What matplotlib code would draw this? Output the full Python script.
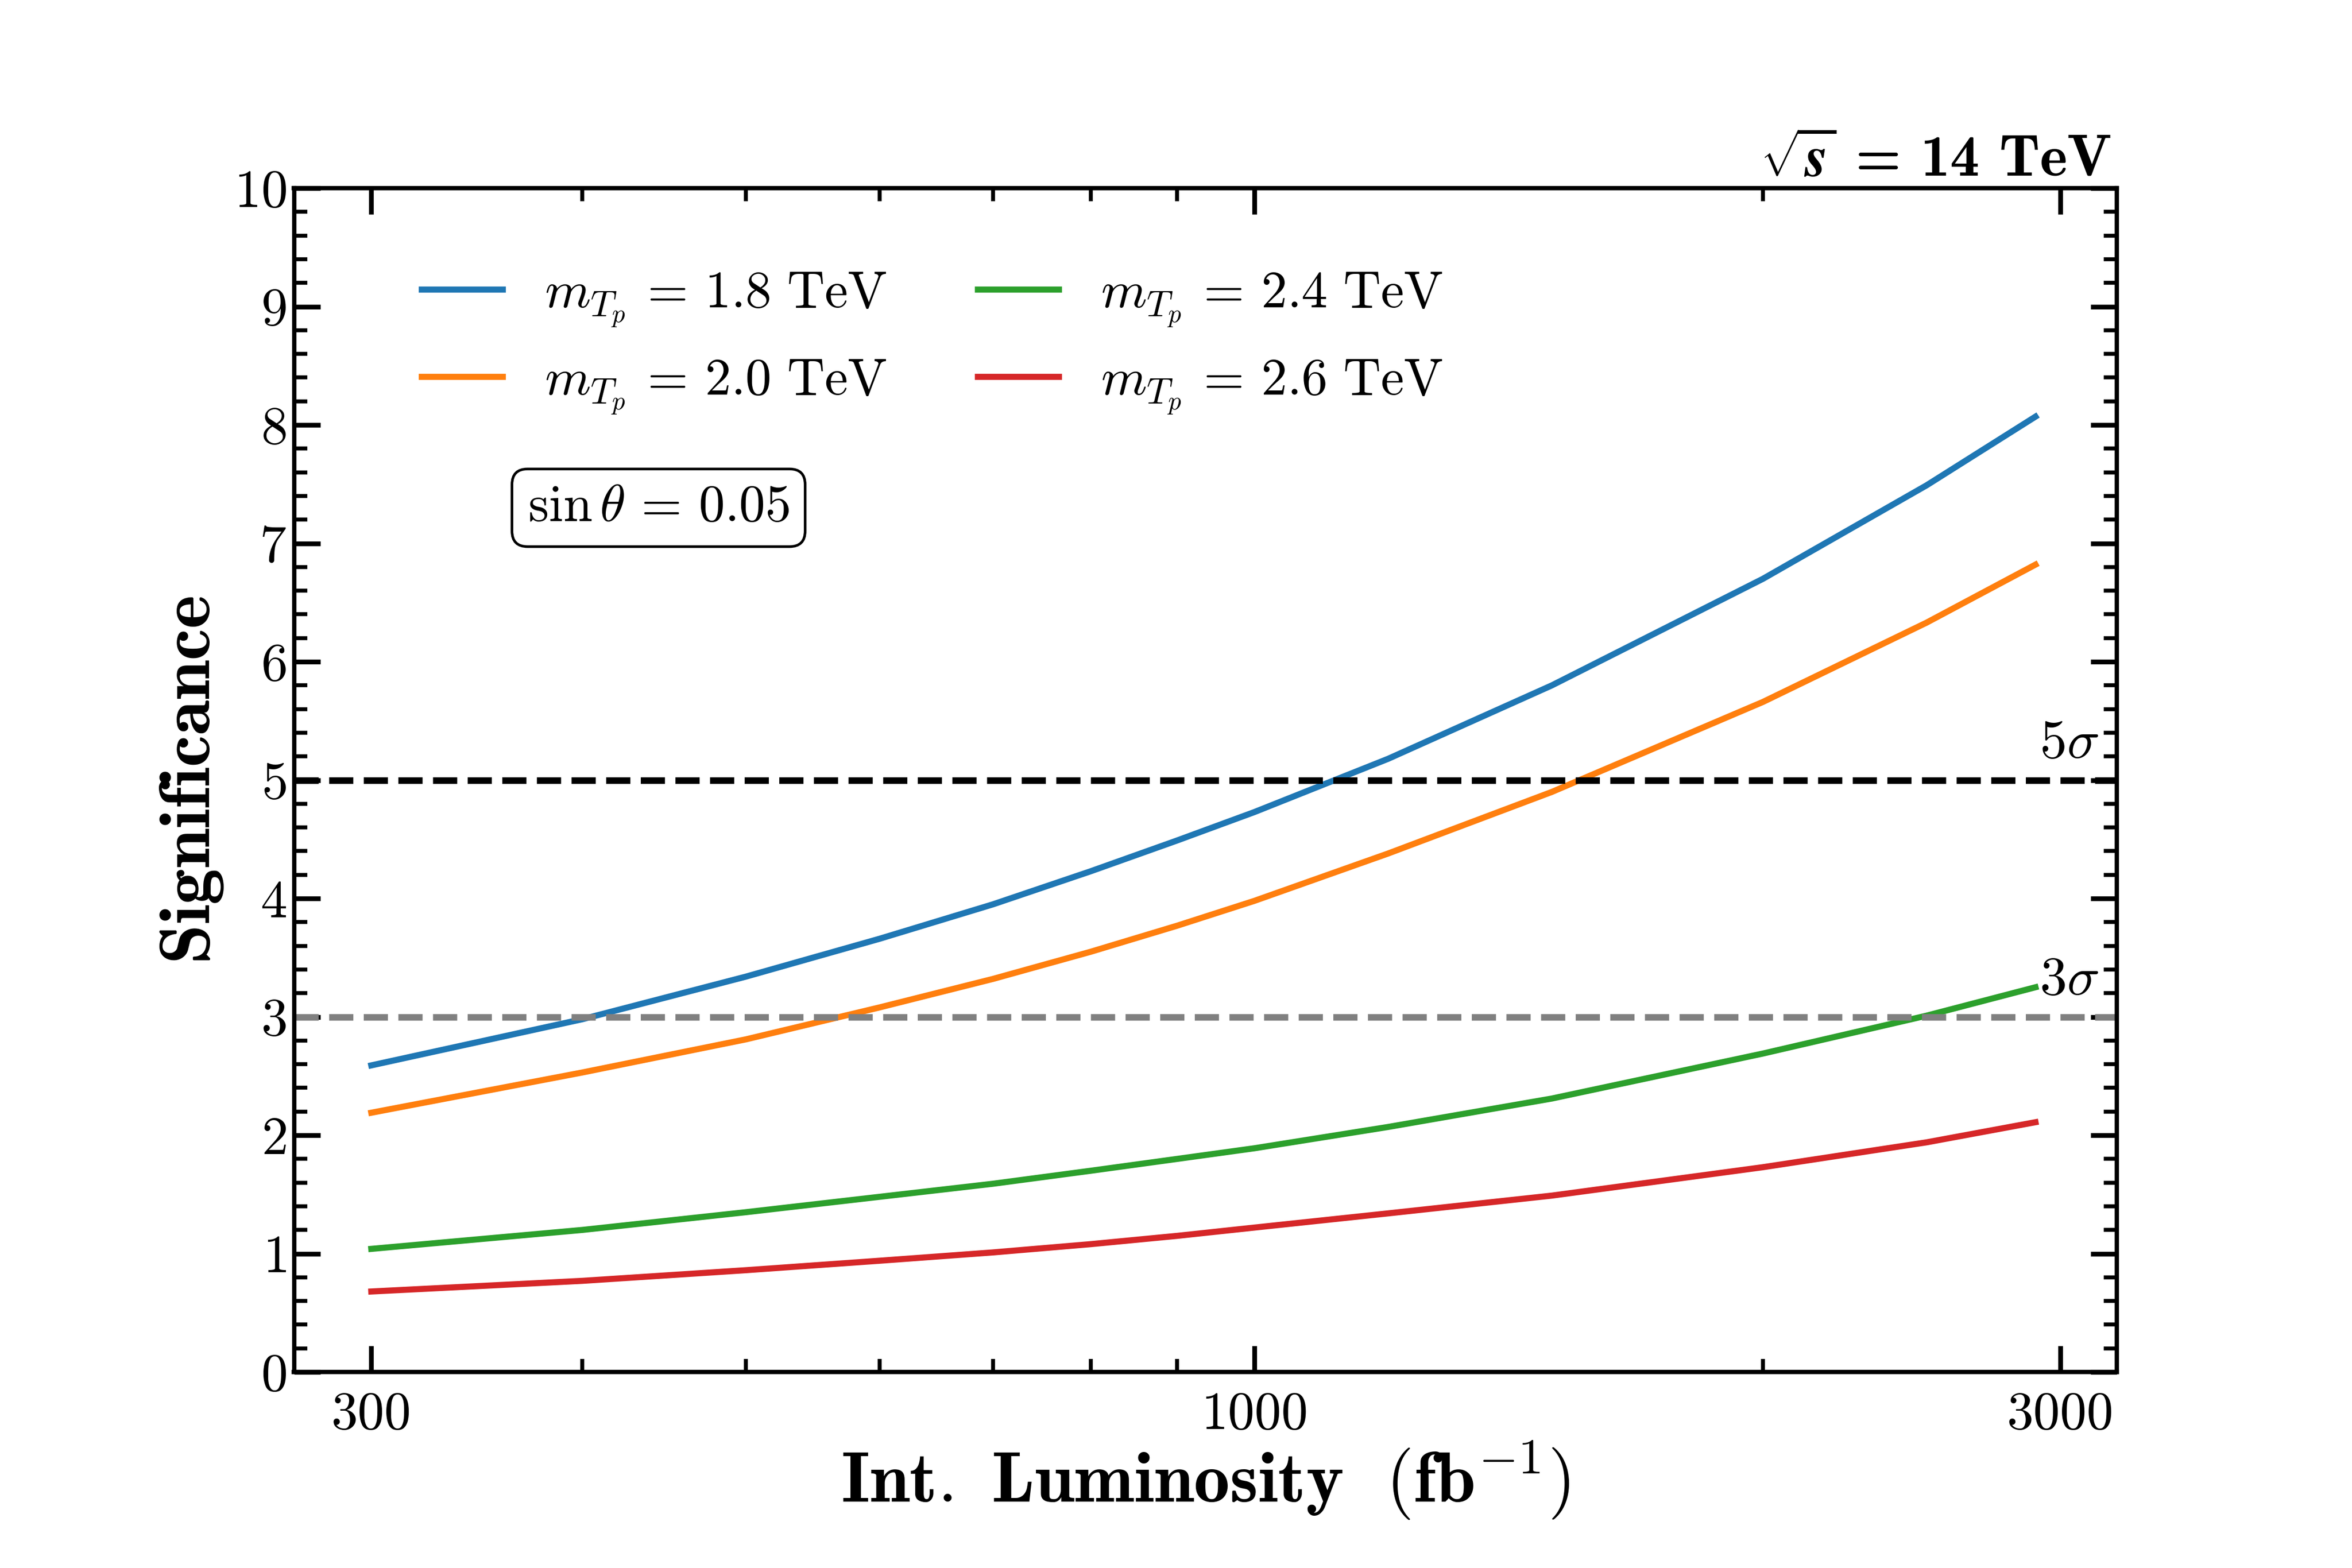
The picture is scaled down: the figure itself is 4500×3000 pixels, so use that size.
import matplotlib
matplotlib.use("Agg")
import matplotlib.pyplot as plt
import matplotlib.ticker as mticker

plt.rcParams['font.family'] = 'serif'
plt.rcParams['font.serif'] = ['cmr10']
plt.rcParams['mathtext.fontset'] = 'cm'
plt.rcParams['axes.formatter.use_mathtext'] = True

# luminosity points (fb^-1) and significance
lumi = [300, 400, 500, 600, 700, 800, 900, 1000, 1200, 1500, 2000, 2500, 2900]
sig_18 = [2.59, 2.98, 3.34, 3.66, 3.95, 4.23, 4.49, 4.73, 5.18, 5.80, 6.70, 7.49, 8.07]
sig_20 = [2.19, 2.53, 2.81, 3.08, 3.32, 3.55, 3.77, 3.98, 4.38, 4.90, 5.66, 6.33, 6.82]
sig_24 = [1.04, 1.20, 1.35, 1.48, 1.59, 1.70, 1.80, 1.89, 2.07, 2.31, 2.69, 3.01, 3.25]
sig_26 = [0.68, 0.77, 0.86, 0.94, 1.01, 1.08, 1.15, 1.22, 1.34, 1.49, 1.73, 1.94, 2.11]

masses = ['1.8', '2.0', '2.4', '2.6']
colors = ['#1f77b4', '#ff7f0e', '#2ca02c', '#d62728']
xticks = [300, 1000, 3000]

fig, ax = plt.subplots(figsize=(15, 10), dpi=300)
fig.subplots_adjust(left=0.125, right=0.9, bottom=0.125, top=0.88)

for m, s, c in zip(masses, [sig_18, sig_20, sig_24, sig_26], colors):
    ax.plot(lumi, s, color=c, lw=2.8, label=r'$m_{T_p}\,=\,' + m + r'\ \mathrm{TeV}$')

ax.axhline(5, color='black', ls='--', lw=3)
ax.axhline(3, color='gray', ls='--', lw=3)
ax.text(0.99, 5.1, r'$5\sigma$', transform=ax.get_yaxis_transform(),
        ha='right', va='bottom', fontsize=25)
ax.text(0.99, 3.1, r'$3\sigma$', transform=ax.get_yaxis_transform(),
        ha='right', va='bottom', fontsize=25)

ax.set_xscale('log')
ax.set_xlim(270, 3240)
ax.set_ylim(0, 10)
ax.set_xticks(xticks)
ax.set_xticklabels([str(t) for t in xticks])
ax.xaxis.set_minor_formatter(mticker.NullFormatter())
ax.yaxis.set_major_locator(mticker.MultipleLocator(1))
ax.yaxis.set_minor_locator(mticker.MultipleLocator(0.2))

ax.tick_params(which='both', direction='in', top=True, right=True, labelsize=24.5)
ax.tick_params(which='major', length=12, width=2.2)
ax.tick_params(which='minor', length=6, width=1.8)
ax.tick_params(axis='x', which='major', pad=9)
for sp in ax.spines.values():
    sp.set_linewidth(2)

ax.set_xlabel(r'$\mathbf{Int.\ Luminosity\ \ (fb^{-1})}$', fontsize=33, labelpad=0)
ax.set_ylabel(r'$\mathbf{Significance}$', fontsize=33, labelpad=4)

ax.legend(loc='upper left', bbox_to_anchor=(0.07, 0.93), ncol=2, frameon=False,
          fontsize=24, handlelength=1.55, handletextpad=0.8, columnspacing=1.75,
          borderpad=0, borderaxespad=0, labelspacing=0.55)

ax.text(0.2, 0.73, r'$\sin\theta\,=\,0.05$', transform=ax.transAxes, fontsize=24,
        ha='center', va='center',
        bbox=dict(boxstyle='round,pad=0.3', fc='white', ec='black', lw=1.2))

ax.text(0.997, 1.0, r'$\sqrt{\boldsymbol{s}}$ = 14 TeV', transform=ax.transAxes,
        ha='right', va='bottom', fontsize=27, family='cmb10')

fig.savefig('out.png', dpi=300)
